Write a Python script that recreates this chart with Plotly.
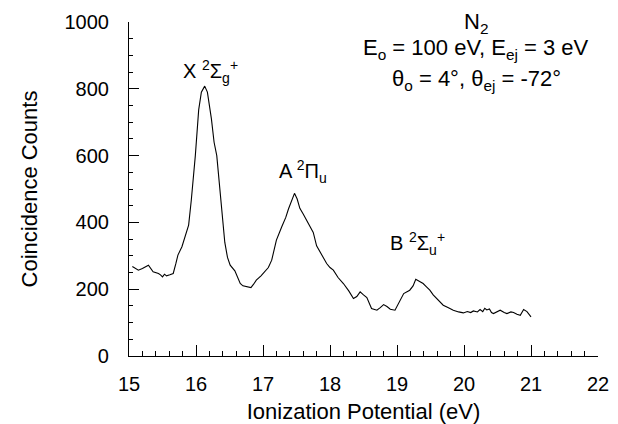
import plotly.graph_objects as go

# Ionization potential (eV) and coincidence counts
ip_ev = [15.05, 15.10, 15.14, 15.20, 15.29, 15.36, 15.40, 15.44, 15.47, 15.50,
         15.53, 15.56, 15.61, 15.66, 15.70, 15.73, 15.79, 15.84, 15.89, 15.93,
         15.99, 16.04, 16.08, 16.13, 16.17, 16.23, 16.27, 16.31, 16.36, 16.40,
         16.43, 16.47, 16.51, 16.58, 16.62, 16.66, 16.70, 16.75, 16.82, 16.86,
         16.90, 16.97, 17.03, 17.08, 17.13, 17.20, 17.28, 17.34, 17.38, 17.43,
         17.47, 17.51, 17.55, 17.60, 17.65, 17.70, 17.75, 17.80, 17.85, 17.90,
         17.95, 18.00, 18.05, 18.12, 18.20, 18.28, 18.35, 18.40, 18.45, 18.50,
         18.55, 18.62, 18.70, 18.75, 18.80, 18.85, 18.90, 18.97, 19.05, 19.10,
         19.19, 19.24, 19.28, 19.33, 19.39, 19.44, 19.49, 19.54, 19.59, 19.64,
         19.69, 19.76, 19.84, 19.92, 19.99, 20.05, 20.10, 20.14, 20.20, 20.24,
         20.28, 20.31, 20.34, 20.38, 20.41, 20.44, 20.49, 20.54, 20.60, 20.64,
         20.70, 20.74, 20.79, 20.84, 20.89, 20.94, 21.00]
counts = [268, 262, 257, 262, 272, 252, 250, 247, 243, 237,
          245, 240, 243, 247, 277, 302, 327, 357, 392, 467,
          600, 737, 790, 808, 790, 710, 640, 600, 500, 420,
          340, 295, 272, 255, 235, 217, 210, 208, 205, 215,
          227, 240, 252, 265, 287, 347, 387, 415, 440, 470,
          487, 470, 442, 425, 405, 387, 370, 330, 312, 295,
          277, 265, 257, 235, 217, 195, 172, 178, 192, 183,
          175, 142, 137, 145, 154, 148, 140, 137, 165, 187,
          197, 210, 230, 225, 217, 207, 197, 183, 172, 160,
          152, 145, 137, 132, 129, 133, 130, 135, 132, 139,
          133, 143, 138, 141, 130, 127, 133, 137, 130, 127,
          132, 130, 125, 122, 139, 133, 117]

x_ticks = [15, 16, 17, 18, 19, 20, 21, 22]
y_ticks = [0, 200, 400, 600, 800, 1000]

FONT = "Liberation Sans, Arial, Helvetica, sans-serif"

fig = go.Figure()
fig.add_trace(go.Scatter(x=ip_ev, y=counts, mode="lines",
                         line=dict(color="black", width=1.1),
                         showlegend=False, hoverinfo="skip"))

axis_common = dict(showline=True, linecolor="black", linewidth=1.2,
                   showgrid=False, zeroline=False, ticks="inside",
                   tickcolor="black", tickwidth=1.2, automargin=False,
                   tickfont=dict(family=FONT, size=20, color="black"))

fig.update_xaxes(range=[15, 22], tickvals=x_ticks, ticklen=11,
                 minor=dict(dtick=0.2, ticks="inside", ticklen=5,
                            tickcolor="black", tickwidth=1),
                 ticklabelstandoff=10,
                 title=dict(text="Ionization Potential (eV)", standoff=10,
                            font=dict(family=FONT, size=22, color="black")),
                 **axis_common)
fig.update_yaxes(range=[0, 1000], tickvals=y_ticks, ticklen=10,
                 minor=dict(dtick=50, ticks="inside", ticklen=4,
                            tickcolor="black", tickwidth=1),
                 ticklabelstandoff=15,
                 title=dict(text="Coincidence Counts", standoff=20,
                            font=dict(family=FONT, size=22, color="black")),
                 **axis_common)

peak_font = dict(family=FONT, size=20, color="black")
info_font = dict(family=FONT, size=22, color="black")
annotations = [
    dict(x=16.22, y=851, text="X <sup>2</sup>Σ<sub>g</sub><sup>+</sup>", font=peak_font),
    dict(x=17.6, y=551, text="A <sup>2</sup>Π<sub>u</sub>", font=peak_font),
    dict(x=19.3, y=338, text="B <sup>2</sup>Σ<sub>u</sub><sup>+</sup>", font=peak_font),
    dict(x=20.18, y=998, text="N<sub>2</sub>", font=info_font),
    dict(x=20.18, y=920, text="E<sub>o</sub> = 100 eV, E<sub>ej</sub> = 3 eV", font=info_font),
    dict(x=20.18, y=826, text="θ<sub>o</sub> = 4°, θ<sub>ej</sub> = -72°", font=info_font),
]
for a in annotations:
    fig.add_annotation(xref="x", yref="y", showarrow=False,
                       xanchor="center", yanchor="middle", **a)

fig.update_layout(width=618, height=424,
                  margin=dict(l=129, r=20, t=22, b=68),
                  plot_bgcolor="white", paper_bgcolor="white")

fig.write_html("out.html")
